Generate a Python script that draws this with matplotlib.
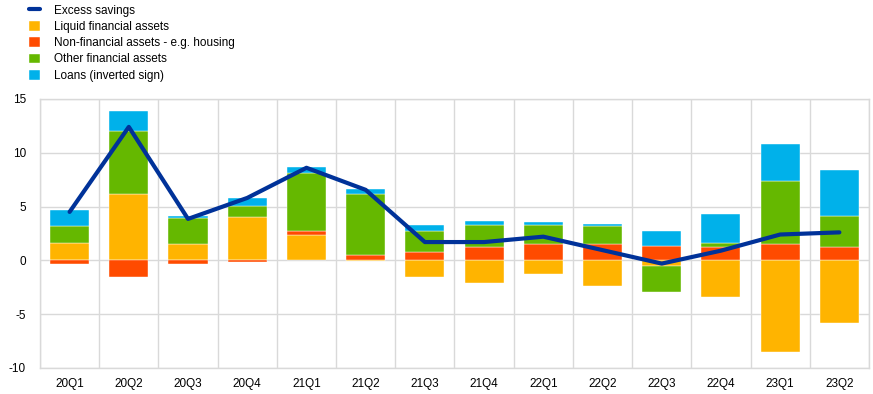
import numpy as np
import matplotlib
matplotlib.use("Agg")
from matplotlib import pyplot as plt

plt.rcParams['font.family'] = ['Liberation Sans', 'DejaVu Sans']
plt.rcParams['axes.unicode_minus'] = False

quarters = ["20Q1", "20Q2", "20Q3", "20Q4", "21Q1", "21Q2", "21Q3",
            "21Q4", "22Q1", "22Q2", "22Q3", "22Q4", "23Q1", "23Q2"]

liquid = [1.65, 6.2, 1.5, 4.0, 2.4, -0.1, -1.55, -2.1, -1.25, -2.4, -0.5, -3.45, -8.55, -5.8]
non_financial = [-0.37, -1.55, -0.37, -0.15, 0.3, 0.5, 0.8, 1.25, 1.5, 1.5, 1.35, 1.25, 1.5, 1.25]
other_financial = [1.5, 5.85, 2.4, 1.03, 5.4, 5.7, 1.9, 2.0, 1.75, 1.65, -2.45, 0.4, 5.85, 2.9]
loans = [1.55, 1.8, 0.25, 0.75, 0.55, 0.45, 0.6, 0.45, 0.3, 0.25, 1.35, 2.65, 3.45, 4.25]
excess_savings = [4.5, 12.4, 3.85, 5.8, 8.6, 6.55, 1.7, 1.7, 2.2, 0.95, -0.3, 0.9, 2.4, 2.6]

series = [
    ("Liquid financial assets", liquid, "#FFB400"),
    ("Non-financial assets - e.g. housing", non_financial, "#FF4B00"),
    ("Other financial assets", other_financial, "#65B800"),
    ("Loans (inverted sign)", loans, "#00B1EA"),
]

fig = plt.figure(figsize=(8.73, 3.94), dpi=100)
ax = fig.add_axes([0.0458, 0.066, 0.9496, 0.683])

x = np.arange(len(quarters))
pos_base = np.zeros(len(quarters))
neg_base = np.zeros(len(quarters))
handles = []
for label, vals, color in series:
    vals = np.array(vals)
    bottoms = np.where(vals >= 0, pos_base, neg_base)
    h = ax.bar(x, vals, width=0.66, bottom=bottoms, color=color,
               edgecolor="#ffffff", linewidth=0.3, label=label, zorder=2)
    pos_base += np.where(vals >= 0, vals, 0)
    neg_base += np.where(vals < 0, vals, 0)
    handles.append(h)

line, = ax.plot(x, excess_savings, color="#003299", linewidth=3,
                solid_capstyle="round", label="Excess savings", zorder=3)

ax.set_xlim(-0.5, len(quarters) - 0.5)
ax.set_ylim(-10, 15)
ax.set_yticks([-10, -5, 0, 5, 10, 15])
ax.set_xticks(x)
ax.set_xticklabels(quarters)
ax.set_xticks(np.arange(len(quarters) + 1) - 0.5, minor=True)
ax.tick_params(axis="both", which="both", length=0, labelsize=8.5, colors="#000000")
ax.tick_params(axis="y", pad=10)
ax.tick_params(axis="x", pad=7)
ax.grid(axis="y", which="major", color="#d9d9d9", linewidth=1, zorder=0)
ax.grid(axis="x", which="minor", color="#d9d9d9", linewidth=1, zorder=0)
ax.set_axisbelow(True)
for s in ax.spines.values():
    s.set_color("#d9d9d9")
    s.set_linewidth(1)

fig.legend([line] + handles,
           ["Excess savings"] + [s[0] for s in series],
           loc="upper left", bbox_to_anchor=(0.028, 1.0), frameon=False,
           fontsize=8.5, handlelength=0.9, handleheight=0.9,
           labelspacing=0.36, handletextpad=1.2, borderaxespad=0)

fig.savefig("out.png", dpi=100)
